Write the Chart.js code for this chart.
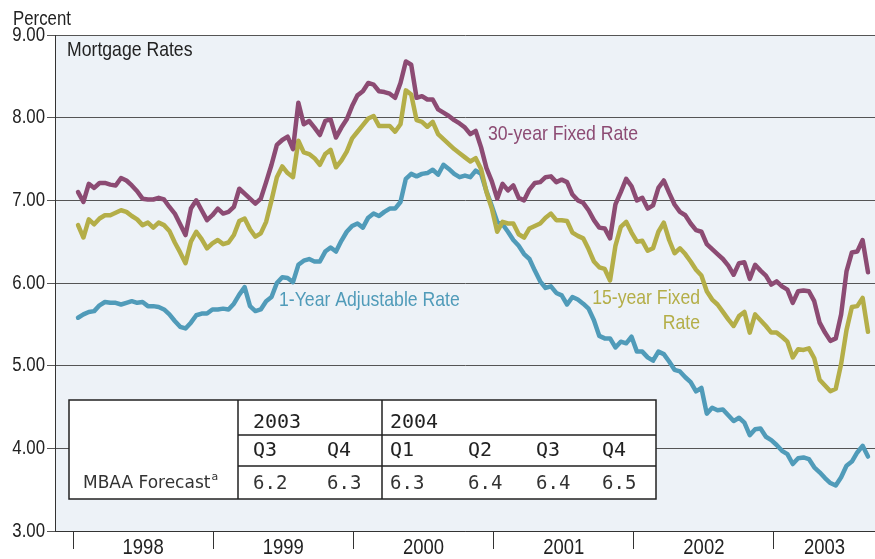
<!DOCTYPE html>
<html>
<head>
<meta charset="utf-8">
<script src="https://cdn.jsdelivr.net/npm/chart.js@4.4.1/dist/chart.umd.min.js"></script>
<style>
  html, body { margin: 0; padding: 0; background: #fff; }
  #wrap { width: 875px; height: 559px; }
</style>
</head>
<body>
<div id="wrap"><canvas id="ratesChart" width="875" height="559"></canvas></div>
<script>
// biweekly readings, first one mid-January 1998
const firstDate = 1998.036;
const stepYears = 14 / 365.25;

const rate30 = [
  7.10, 6.98, 7.20, 7.15, 7.21, 7.21, 7.19, 7.18, 7.27, 7.24,
  7.18, 7.11, 7.02, 7.01, 7.01, 7.03, 7.01, 6.92, 6.84, 6.71,
  6.58, 6.90, 7.00, 6.88, 6.76, 6.82, 6.90, 6.84, 6.86, 6.92,
  7.14, 7.08, 7.02, 6.96, 7.02, 7.22, 7.43, 7.67, 7.73, 7.77,
  7.62, 8.18, 7.92, 7.96, 7.88, 7.79, 7.96, 7.98, 7.76, 7.88,
  7.98, 8.14, 8.27, 8.32, 8.42, 8.40, 8.32, 8.31, 8.29, 8.24,
  8.42, 8.68, 8.64, 8.24, 8.26, 8.22, 8.22, 8.10, 8.06, 8.02,
  7.97, 7.93, 7.88, 7.80, 7.84, 7.64, 7.39, 7.23, 7.02, 7.20,
  7.12, 7.18, 7.03, 7.00, 7.13, 7.21, 7.22, 7.28, 7.29, 7.22,
  7.25, 7.22, 7.07, 7.00, 6.97, 6.88, 6.76, 6.67, 6.66, 6.54,
  6.95, 7.10, 7.26, 7.17, 7.00, 7.03, 6.90, 6.94, 7.15, 7.24,
  7.09, 6.95, 6.86, 6.82, 6.72, 6.64, 6.62, 6.47, 6.41, 6.35,
  6.29, 6.21, 6.10, 6.24, 6.25, 6.05, 6.22, 6.15, 6.09, 5.98,
  6.02, 5.96, 5.92, 5.76, 5.90, 5.91, 5.90, 5.78, 5.52, 5.40,
  5.30, 5.33, 5.62, 6.14, 6.37, 6.38, 6.52, 6.13
];

const rate15 = [
  6.70, 6.55, 6.77, 6.71, 6.78, 6.82, 6.82, 6.85, 6.88, 6.86,
  6.81, 6.77, 6.70, 6.73, 6.67, 6.73, 6.70, 6.63, 6.49, 6.37,
  6.24, 6.50, 6.62, 6.53, 6.42, 6.48, 6.52, 6.47, 6.49, 6.58,
  6.75, 6.78, 6.65, 6.56, 6.60, 6.74, 7.00, 7.28, 7.41, 7.33,
  7.28, 7.72, 7.58, 7.56, 7.51, 7.43, 7.56, 7.61, 7.40, 7.48,
  7.59, 7.75, 7.83, 7.91, 7.99, 8.02, 7.90, 7.90, 7.90, 7.83,
  7.92, 8.33, 8.28, 7.97, 7.95, 7.89, 7.95, 7.80, 7.74, 7.68,
  7.62, 7.57, 7.52, 7.47, 7.51, 7.38, 7.10, 6.90, 6.62, 6.74,
  6.72, 6.72, 6.59, 6.55, 6.66, 6.69, 6.72, 6.79, 6.84, 6.76,
  6.76, 6.75, 6.61, 6.57, 6.54, 6.41, 6.26, 6.19, 6.17, 6.03,
  6.45, 6.68, 6.74, 6.61, 6.50, 6.51, 6.39, 6.42, 6.62, 6.73,
  6.52, 6.36, 6.42, 6.35, 6.26, 6.16, 6.09, 5.90, 5.80, 5.74,
  5.65, 5.56, 5.48, 5.60, 5.65, 5.40, 5.62, 5.55, 5.48, 5.40,
  5.40, 5.35, 5.29, 5.10, 5.20, 5.19, 5.21, 5.09, 4.83, 4.76,
  4.69, 4.72, 5.02, 5.43, 5.71, 5.72, 5.82, 5.41
];

const rate1 = [
  5.58, 5.62, 5.65, 5.66, 5.73, 5.77, 5.76, 5.76, 5.74, 5.76,
  5.78, 5.76, 5.77, 5.72, 5.72, 5.71, 5.68, 5.62, 5.54, 5.47,
  5.45, 5.52, 5.61, 5.63, 5.63, 5.68, 5.68, 5.69, 5.68, 5.75,
  5.86, 5.95, 5.72, 5.66, 5.68, 5.78, 5.83, 6.00, 6.07, 6.06,
  6.01, 6.22, 6.27, 6.29, 6.26, 6.26, 6.38, 6.43, 6.38, 6.51,
  6.62, 6.69, 6.72, 6.67, 6.79, 6.84, 6.81, 6.86, 6.90, 6.90,
  6.98, 7.26, 7.32, 7.29, 7.32, 7.33, 7.37, 7.31, 7.43, 7.38,
  7.32, 7.28, 7.30, 7.28, 7.36, 7.32, 7.11, 6.93, 6.74, 6.71,
  6.62, 6.52, 6.45, 6.35, 6.29, 6.15, 6.02, 5.94, 5.96, 5.88,
  5.85, 5.74, 5.83, 5.80, 5.75, 5.69, 5.55, 5.36, 5.33, 5.33,
  5.22, 5.29, 5.27, 5.35, 5.17, 5.17, 5.10, 5.06, 5.17, 5.14,
  5.05, 4.95, 4.93, 4.86, 4.80, 4.69, 4.73, 4.42, 4.49, 4.46,
  4.47, 4.40, 4.33, 4.37, 4.31, 4.16, 4.23, 4.24, 4.14, 4.10,
  4.04, 3.97, 3.93, 3.81, 3.88, 3.89, 3.87, 3.77, 3.71, 3.64,
  3.58, 3.55, 3.65, 3.79, 3.84, 3.95, 4.03, 3.90
];

const years = [1998, 1999, 2000, 2001, 2002, 2003];

// MBAA forecast table
const forecastYears = ['2003', '2004'];
const forecastQuarters = ['Q3', 'Q4', 'Q1', 'Q2', 'Q3', 'Q4'];
const forecastValues = ['6.2', '6.3', '6.3', '6.4', '6.4', '6.5'];

const dates = [];
for (let i = 0; i < rate30.length; i++) {
  dates.push(firstDate + i * stepYears);
}

function points(values) {
  const pts = [];
  for (let i = 0; i < values.length; i++) {
    pts.push({ x: dates[i], y: values[i] });
  }
  return pts;
}

const PURPLE = 'rgb(140, 75, 115)';
const OLIVE = 'rgb(180, 174, 72)';
const TEAL = 'rgb(80, 155, 185)';
const SANS = "'Liberation Sans', Arial, sans-serif";
const X_MIN = 1997.8716;
const X_MAX = 2003.7205;

// no narrow font installed, so squeeze the regular one
function narrowText(ctx, text, x, y, align, size) {
  ctx.save();
  ctx.font = size + 'px ' + SANS;
  ctx.textAlign = align;
  ctx.textBaseline = 'middle';
  ctx.translate(x, y);
  ctx.scale(0.84, 1);
  ctx.fillText(text, 0, 0);
  ctx.restore();
}

const decorations = {
  id: 'decorations',
  beforeDraw(chart) {
    const ctx = chart.ctx;
    const a = chart.chartArea;
    ctx.save();
    ctx.fillStyle = '#fff';
    ctx.fillRect(0, 0, chart.width, chart.height);
    ctx.fillStyle = 'rgb(237, 242, 247)';
    ctx.fillRect(a.left, a.top, a.right - a.left, a.bottom - a.top);
    ctx.restore();
  },
  afterDatasetsDraw(chart) {
    const ctx = chart.ctx;
    ctx.save();

    // series labels
    ctx.fillStyle = PURPLE;
    narrowText(ctx, '30-year Fixed Rate', 488, 134, 'left', 21);
    ctx.fillStyle = TEAL;
    narrowText(ctx, '1-Year Adjustable Rate', 279, 300, 'left', 21);
    ctx.fillStyle = OLIVE;
    narrowText(ctx, '15-year Fixed', 700, 298, 'right', 21);
    narrowText(ctx, 'Rate', 700, 323, 'right', 21);

    ctx.fillStyle = '#222';
    narrowText(ctx, 'Mortgage Rates', 67, 50, 'left', 21);

    // forecast table
    ctx.fillStyle = '#fff';
    ctx.fillRect(69, 400, 587, 99);
    ctx.strokeStyle = '#222';
    ctx.lineWidth = 1.5;
    ctx.strokeRect(69, 400, 587, 99);
    ctx.beginPath();
    ctx.moveTo(238, 400); ctx.lineTo(238, 499);
    ctx.moveTo(382, 400); ctx.lineTo(382, 499);
    ctx.moveTo(238, 435); ctx.lineTo(656, 435);
    ctx.moveTo(238, 466); ctx.lineTo(656, 466);
    ctx.stroke();

    const colX = [253, 327, 390, 468, 536, 602];
    ctx.textBaseline = 'middle';
    ctx.textAlign = 'left';
    ctx.fillStyle = '#222';
    ctx.font = '20px "DejaVu Sans Mono", monospace';
    ctx.fillText(forecastYears[0], colX[0], 423);
    ctx.fillText(forecastYears[1], colX[2], 423);
    for (let i = 0; i < forecastQuarters.length; i++) {
      ctx.fillText(forecastQuarters[i], colX[i], 451);
    }
    ctx.font = '19px "DejaVu Sans Mono", monospace';
    ctx.fillStyle = '#333';
    for (let i = 0; i < forecastValues.length; i++) {
      ctx.fillText(forecastValues[i], colX[i], 484);
    }
    ctx.font = '17px "DejaVu Sans", sans-serif';
    ctx.fillText('MBAA Forecast', 83, 484);
    const w = ctx.measureText('MBAA Forecast').width;
    ctx.font = '11px "DejaVu Sans", sans-serif';
    ctx.fillText('a', 83 + w + 1, 477);
    ctx.restore();
  },
  afterDraw(chart) {
    const ctx = chart.ctx;
    const xs = chart.scales.x;
    const ys = chart.scales.y;
    ctx.save();
    ctx.fillStyle = '#222';
    narrowText(ctx, 'Percent', 13, 19, 'left', 20);
    for (let v = 3; v <= 9; v++) {
      narrowText(ctx, v.toFixed(2), 45, ys.getPixelForValue(v), 'right', 20);
    }
    for (let i = 0; i < years.length; i++) {
      const from = Math.max(years[i], X_MIN);
      const to = Math.min(years[i] + 1, X_MAX);
      const px = (xs.getPixelForValue(from) + xs.getPixelForValue(to)) / 2;
      narrowText(ctx, String(years[i]), px, 548, 'center', 22);
    }
    ctx.restore();
  }
};

const ctxRates = document.getElementById('ratesChart');

new Chart(ctxRates, {
  type: 'line',
  data: {
    datasets: [
      { label: '30-year Fixed Rate', data: points(rate30), borderColor: PURPLE },
      { label: '15-year Fixed Rate', data: points(rate15), borderColor: OLIVE },
      { label: '1-Year Adjustable Rate', data: points(rate1), borderColor: TEAL }
    ]
  },
  options: {
    responsive: false,
    animation: false,
    devicePixelRatio: 1,
    layout: { padding: { top: 35, right: 0, left: 0, bottom: 0 } },
    elements: {
      line: { borderWidth: 4.5, tension: 0, borderJoinStyle: 'round', borderCapStyle: 'round' },
      point: { radius: 0 }
    },
    plugins: {
      legend: { display: false },
      tooltip: { enabled: false }
    },
    scales: {
      x: {
        type: 'linear',
        min: X_MIN,
        max: X_MAX,
        afterBuildTicks(scale) {
          scale.ticks = years.map(function(y) { return { value: y }; });
        },
        afterFit(scale) { scale.height = 28; },
        ticks: { display: false, autoSkip: false },
        grid: { drawOnChartArea: false, drawTicks: true, tickLength: 18, color: '#333', lineWidth: 1 },
        border: { display: true, color: '#333', width: 1 }
      },
      y: {
        min: 3,
        max: 9,
        afterFit(scale) { scale.width = 55; },
        ticks: { stepSize: 1, display: false },
        grid: { color: '#555', lineWidth: 1, tickLength: 8 },
        border: { display: true, color: '#333', width: 1 }
      }
    }
  },
  plugins: [decorations]
});
</script>
</body>
</html>
